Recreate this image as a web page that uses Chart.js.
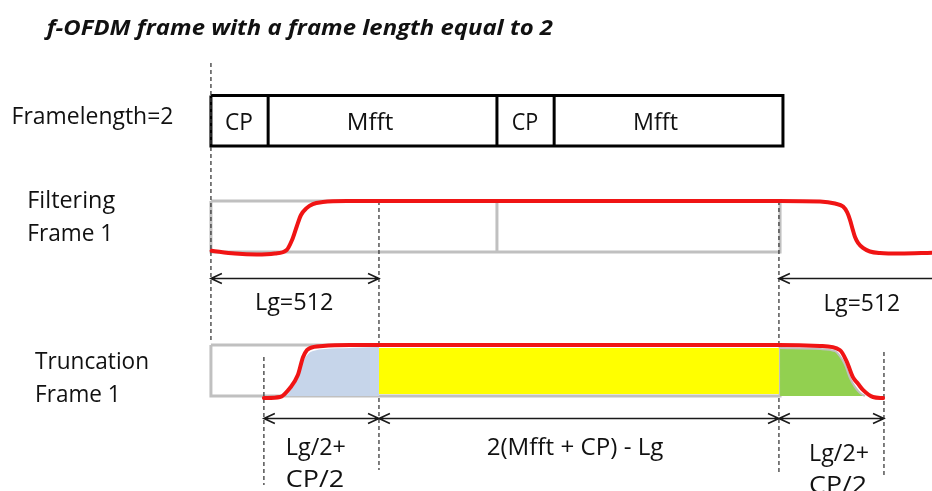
<!DOCTYPE html>
<html><head><meta charset="utf-8">
<script src="https://cdn.jsdelivr.net/npm/chart.js@4/dist/chart.umd.min.js"></script>
<style>html,body{margin:0;padding:0;background:#fff}canvas{display:block}</style>
</head><body>
<canvas id="c" width="932" height="491"></canvas>
<script>
// ---------------- data (time axis in samples, frame starts at 0) ----------------
const symbolNames   = ['CP', 'Mfft', 'CP', 'Mfft'];
const symbolLengths = [256, 1024, 256, 1024];
const filterWindowEnd = 2547;
const filterDivider   = 1280;

// filter response (Filtering Frame 1), amplitude 0 = low, 1 = high
const filterX   = [3, 107, 205, 286, 339, 363, 384, 403, 428, 456, 501, 607, 752, 2542, 2726, 2793, 2829, 2847, 2860, 2873, 2882, 2896, 2918, 2949, 2994, 3084, 3227];
const filterAmp = [0.025, -0.03, -0.05, -0.03, 0.04, 0.235, 0.50, 0.725, 0.86, 0.94, 0.98, 1.0, 1.0, 1.0, 0.99, 0.95, 0.89, 0.78, 0.63, 0.43, 0.30, 0.18, 0.08, 0.01, -0.02, -0.03, -0.014];

// truncated response (Truncation Frame 1)
const truncX   = [237, 309, 354, 389, 412, 430, 443, 501, 622, 743, 2542, 2726, 2815, 2846, 2873, 2896, 2918, 2963, 3008];
const truncAmp = [-0.04, -0.02, 0.16, 0.41, 0.76, 0.90, 0.94, 0.98, 1.0, 1.0, 1.0, 0.98, 0.90, 0.67, 0.37, 0.24, 0.12, -0.02, -0.04];

// shaded regions
const headX   = [255, 335, 363, 390, 412, 434, 457, 511, 622, 743, 752];
const headAmp = [-0.02, 0, 0.16, 0.35, 0.67, 0.82, 0.88, 0.92, 0.94, 0.96, 0.96];
const bodyX   = [752, 2542];
const bodyAmp = [0.94, 0.04];           // top, bottom
const tailX   = [2547, 2726, 2793, 2815, 2838, 2860, 2882, 2905, 2927];
const tailAmp = [0.94, 0.92, 0.88, 0.78, 0.61, 0.35, 0.18, 0.06, 0];

// guides and spans
const guideX      = [0, 752, 2542, 237, 3012];
const filterSpans = [[0, 752], [2542, 3227]];
const truncSpans  = [[237, 752], [752, 2542], [2542, 3012]];

// ---------------- layout (vertical positions, sizes, styles) ----------------
const X_MIN = -944, X_MAX = 3227;
const rows = {
  frame:  {top: 95.5, bottom: 146},
  filter: {top: 201, bottom: 252},
  trunc:  {top: 345, bottom: 396}
};
const guideSegs = [
  [[63, 340]],
  [[201, 345], [398, 470]],
  [[201, 345], [398, 475]],
  [[357, 485]],
  [[352, 477]]
];
const arrowY = {filter: 278.5, trunc: 418.5};
const HEAD_L = 49, HEAD_H = 5;
const baseFont  = '23px "Open Sans", sans-serif';
const titleFont = 'italic bold 21px "Open Sans", sans-serif';

const labels = [
  {text: 'f-OFDM frame with a frame length equal to 2', x0: -735, x1: 1531, y: 35, font: titleFont},
  {text: 'Framelength=2', x0: -892, x1: -168, y: 124.3},
  {text: symbolNames[0], x0: 63,   x1: 188,  y: 130},
  {text: symbolNames[1], x0: 608,  x1: 816,  y: 130},
  {text: symbolNames[2], x0: 1346, x1: 1465, y: 130},
  {text: symbolNames[3], x0: 1889, x1: 2090, y: 130},
  {text: 'Filtering',  x0: -822, x1: -429, y: 208.3},
  {text: 'Frame 1',    x0: -822, x1: -437, y: 240.7},
  {text: 'Truncation', x0: -787, x1: -277, y: 369.3},
  {text: 'Frame 1',    x0: -787, x1: -404, y: 401.7},
  {text: 'Lg=512', x0: 197,  x1: 548,  y: 310},
  {text: 'Lg=512', x0: 2741, x1: 3084, y: 310.7},
  {text: 'Lg/2+',  x0: 335,  x1: 604,  y: 455},
  {text: 'CP/2',   x0: 335,  x1: 596,  y: 486.7},
  {text: '2(Mfft + CP) - Lg', x0: 1234, x1: 2025, y: 455},
  {text: 'Lg/2+',  x0: 2677, x1: 2945, y: 460.7},
  {text: 'CP/2',   x0: 2677, x1: 2936, y: 493}
];

// ---------------- build datasets ----------------
const rowY = (row, a) => row.bottom - a * (row.bottom - row.top);
const GAP = x => ({x: x, y: null});
function rect(x0, x1, t, b) {
  return [{x: x0, y: t}, {x: x1, y: t}, {x: x1, y: b}, {x: x0, y: b}, {x: x0, y: t}, GAP(x0)];
}

// frame boxes
const bounds = [0];
symbolLengths.forEach(l => bounds.push(bounds[bounds.length - 1] + l));
let framePts = rect(0, bounds[bounds.length - 1], rows.frame.top, rows.frame.bottom);
bounds.slice(1, -1).forEach(b => framePts.push({x: b, y: rows.frame.top}, {x: b, y: rows.frame.bottom}, GAP(b)));

// grey boxes
let greyPts = rect(0, filterWindowEnd, rows.filter.top, rows.filter.bottom);
greyPts.push({x: filterDivider, y: rows.filter.top}, {x: filterDivider, y: rows.filter.bottom}, GAP(filterDivider));
greyPts = greyPts.concat(rect(0, filterWindowEnd, rows.trunc.top, rows.trunc.bottom));

// guides
let guidePts = [];
guideX.forEach((gx, i) => guideSegs[i].forEach(s => guidePts.push({x: gx, y: s[0]}, {x: gx, y: s[1]}, GAP(gx))));

// arrows
function arrows(spans, yv) {
  const pts = [];
  spans.forEach(([a, b]) => {
    pts.push({x: a, y: yv}, {x: b, y: yv}, GAP(b));
    pts.push({x: a + HEAD_L, y: yv - HEAD_H}, {x: a, y: yv}, {x: a + HEAD_L, y: yv + HEAD_H}, GAP(a));
    if (b < X_MAX) pts.push({x: b - HEAD_L, y: yv - HEAD_H}, {x: b, y: yv}, {x: b - HEAD_L, y: yv + HEAD_H}, GAP(b));
  });
  return pts;
}
const arrowPts = arrows(filterSpans, arrowY.filter).concat(arrows(truncSpans, arrowY.trunc));

const curve = (xs, as, row) => xs.map((x, i) => ({x: x, y: rowY(row, as[i])}));

const lineBase = {pointRadius: 0, tension: 0, spanGaps: false, fill: false, borderJoinStyle: 'miter'};

const datasets = [
  Object.assign({}, lineBase, {label: 'filter', data: curve(filterX, filterAmp, rows.filter), borderColor: '#f01414', borderWidth: 4, cubicInterpolationMode: 'monotone', borderJoinStyle: 'round', borderCapStyle: 'round', order: 1}),
  Object.assign({}, lineBase, {label: 'trunc', data: curve(truncX, truncAmp, rows.trunc), borderColor: '#f01414', borderWidth: 4, cubicInterpolationMode: 'monotone', borderJoinStyle: 'round', borderCapStyle: 'round', order: 1}),
  Object.assign({}, lineBase, {label: 'arrows', data: arrowPts, borderColor: '#1a1a1a', borderWidth: 1.6, order: 2}),
  Object.assign({}, lineBase, {label: 'guides', data: guidePts, borderColor: '#3a3a3a', borderWidth: 1.3, borderDash: [4, 3], order: 3}),
  Object.assign({}, lineBase, {label: 'frame', data: framePts, borderColor: '#000000', borderWidth: 3, order: 4}),
  Object.assign({}, lineBase, {label: 'head', data: curve(headX, headAmp, rows.trunc), borderColor: 'rgba(0,0,0,0)', borderWidth: 1, cubicInterpolationMode: 'monotone', fill: {value: rows.trunc.bottom}, backgroundColor: '#c6d5ea', order: 6}),
  Object.assign({}, lineBase, {label: 'body', data: [{x: bodyX[0], y: rowY(rows.trunc, bodyAmp[0])}, {x: bodyX[1], y: rowY(rows.trunc, bodyAmp[0])}], borderColor: 'rgba(0,0,0,0)', borderWidth: 1, fill: {value: rowY(rows.trunc, bodyAmp[1])}, backgroundColor: '#ffff00', order: 6}),
  Object.assign({}, lineBase, {label: 'tail', data: curve(tailX, tailAmp, rows.trunc), borderColor: '#c0c0c0', borderWidth: 2, cubicInterpolationMode: 'monotone', fill: {value: rows.trunc.bottom}, backgroundColor: '#92d050', order: 6}),
  Object.assign({}, lineBase, {label: 'grey', data: greyPts, borderColor: '#c0c0c0', borderWidth: 3, order: 8})
];

const textPlugin = {
  id: 'texts',
  afterDatasetsDraw(chart) {
    const {ctx, scales: {x, y}} = chart;
    labels.forEach(l => {
      ctx.save();
      ctx.font = l.font || baseFont;
      ctx.fillStyle = '#111';
      ctx.textBaseline = 'alphabetic';
      ctx.textAlign = 'left';
      const p0 = x.getPixelForValue(l.x0), p1 = x.getPixelForValue(l.x1);
      const w = ctx.measureText(l.text).width;
      ctx.translate(p0, y.getPixelForValue(l.y));
      ctx.scale((p1 - p0) / w, 1);
      ctx.fillText(l.text, 0, 0);
      ctx.restore();
    });
  }
};

const bgPlugin = {
  id: 'bg',
  beforeDraw(chart) {
    const ctx = chart.ctx;
    ctx.save(); ctx.fillStyle = '#fff'; ctx.fillRect(0, 0, chart.width, chart.height); ctx.restore();
  }
};

new Chart(document.getElementById('c'), {
  type: 'line',
  data: {datasets: datasets},
  options: {
    responsive: false,
    animation: false,
    devicePixelRatio: 1,
    layout: {padding: 0},
    events: [],
    scales: {
      x: {type: 'linear', min: X_MIN, max: X_MAX, display: false},
      y: {type: 'linear', min: 0, max: 491, reverse: true, display: false}
    },
    plugins: {legend: {display: false}, tooltip: {enabled: false}, title: {display: false}}
  },
  plugins: [bgPlugin, textPlugin]
});
</script>
</body></html>
